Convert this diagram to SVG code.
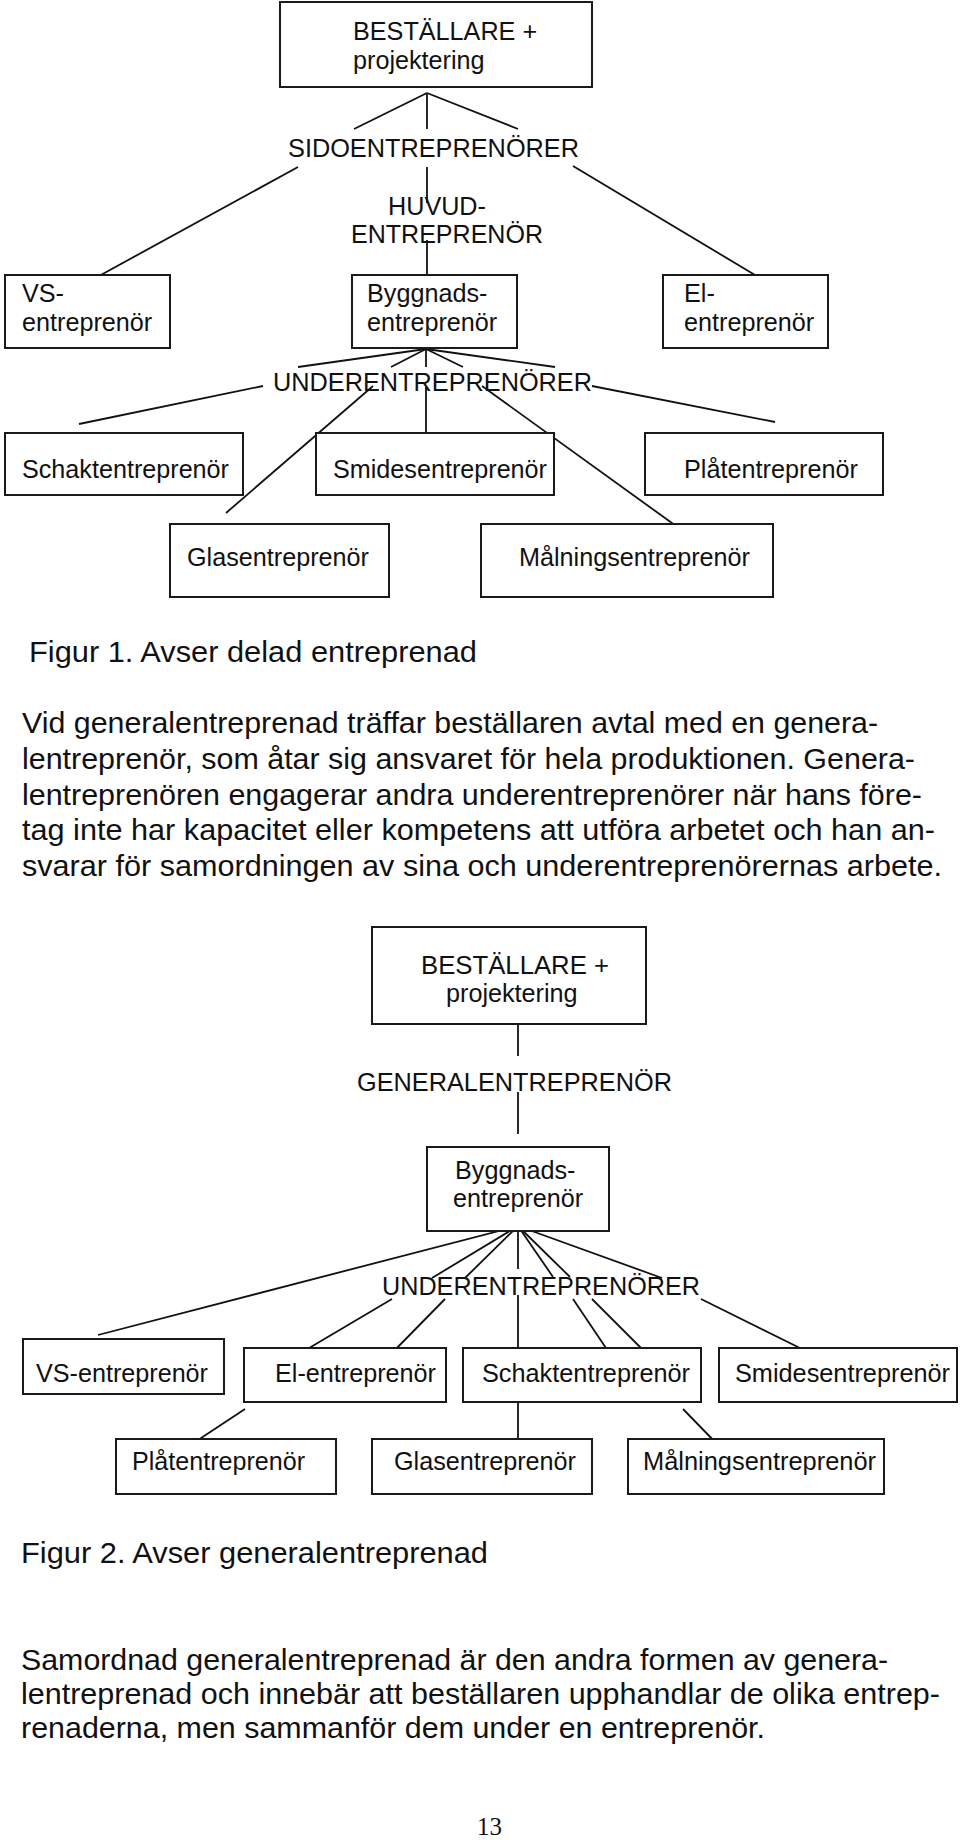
<svg xmlns="http://www.w3.org/2000/svg" width="960" height="1842" viewBox="0 0 960 1842">
<style>
  .bx { fill: #fff; stroke: #1a1a1a; stroke-width: 2; }
  .ln { stroke: #111; stroke-width: 1.8; fill: none; stroke-linecap: butt; }
  .t { font-family: "Liberation Sans", Arial, sans-serif; font-size: 25.2px; fill: #111; }
  .p { font-family: "Liberation Sans", Arial, sans-serif; font-size: 30px; fill: #111; }
  .pg { font-family: "Liberation Serif", "Times New Roman", serif; font-size: 25px; fill: #111; }
</style>
<rect width="960" height="1842" fill="#fff"/>

<!-- Figure 1 connectors -->
<g id="connectors-fig1">
  <line class="ln" x1="427" y1="93" x2="354" y2="129"/>
  <line class="ln" x1="427" y1="93" x2="427" y2="129"/>
  <line class="ln" x1="427" y1="93" x2="518" y2="129"/>
  <line class="ln" x1="298" y1="167" x2="99" y2="276"/>
  <line class="ln" x1="427" y1="167" x2="427" y2="203"/>
  <line class="ln" x1="427" y1="240" x2="427" y2="276"/>
  <line class="ln" x1="573" y1="166" x2="755" y2="275"/>
  <line class="ln" x1="426" y1="349" x2="298" y2="367"/>
  <line class="ln" x1="426" y1="349" x2="391" y2="367"/>
  <line class="ln" x1="426" y1="349" x2="426" y2="367"/>
  <line class="ln" x1="426" y1="349" x2="463" y2="367"/>
  <line class="ln" x1="426" y1="349" x2="555" y2="367"/>
  <line class="ln" x1="263" y1="386" x2="79" y2="424"/>
  <line class="ln" x1="373" y1="386" x2="226" y2="513"/>
  <line class="ln" x1="426" y1="387" x2="426" y2="441"/>
  <line class="ln" x1="482" y1="386" x2="683" y2="531"/>
  <line class="ln" x1="592" y1="386" x2="775" y2="422"/>
</g>

<!-- Figure 1 nodes -->
<g id="f1-bestallare">
  <rect class="bx" x="280" y="2" width="312" height="85"/>
  <text class="t" x="353" y="40">BESTÄLLARE +</text>
  <text class="t" x="353" y="69">projektering</text>
</g>
<g id="f1-sido">
  <text class="t" x="288" y="157" textLength="291" lengthAdjust="spacingAndGlyphs">SIDOENTREPRENÖRER</text>
</g>
<g id="f1-huvud">
  <text class="t" x="388" y="215">HUVUD-</text>
  <text class="t" x="351" y="243" textLength="192" lengthAdjust="spacingAndGlyphs">ENTREPRENÖR</text>
</g>
<g id="f1-vs">
  <rect class="bx" x="5" y="275" width="165" height="73"/>
  <text class="t" x="22" y="302">VS-</text>
  <text class="t" x="22" y="331">entreprenör</text>
</g>
<g id="f1-byggnads">
  <rect class="bx" x="352" y="275" width="165" height="73"/>
  <text class="t" x="367" y="302">Byggnads-</text>
  <text class="t" x="367" y="331">entreprenör</text>
</g>
<g id="f1-el">
  <rect class="bx" x="663" y="275" width="165" height="73"/>
  <text class="t" x="684" y="302">El-</text>
  <text class="t" x="684" y="331">entreprenör</text>
</g>
<g id="f1-under">
  <text class="t" x="273" y="391" textLength="319" lengthAdjust="spacingAndGlyphs">UNDERENTREPRENÖRER</text>
</g>
<g id="f1-schakt">
  <rect class="bx" x="5" y="433" width="238" height="62"/>
  <text class="t" x="22" y="478" textLength="207" lengthAdjust="spacingAndGlyphs">Schaktentreprenör</text>
</g>
<g id="f1-smides">
  <rect class="bx" x="316" y="433" width="238" height="62"/>
  <text class="t" x="333" y="478" textLength="214" lengthAdjust="spacingAndGlyphs">Smidesentreprenör</text>
</g>
<g id="f1-plat">
  <rect class="bx" x="645" y="433" width="238" height="62"/>
  <text class="t" x="684" y="478" textLength="174" lengthAdjust="spacingAndGlyphs">Plåtentreprenör</text>
</g>
<g id="f1-glas">
  <rect class="bx" x="170" y="524" width="219" height="73"/>
  <text class="t" x="187" y="566" textLength="182" lengthAdjust="spacingAndGlyphs">Glasentreprenör</text>
</g>
<g id="f1-malning">
  <rect class="bx" x="481" y="524" width="292" height="73"/>
  <text class="t" x="519" y="566" textLength="231" lengthAdjust="spacingAndGlyphs">Målningsentreprenör</text>
</g>

<!-- Text between figures -->
<g id="caption1">
  <text class="p" x="29" y="662" textLength="448" lengthAdjust="spacingAndGlyphs">Figur 1. Avser delad entreprenad</text>
</g>
<g id="paragraph1">
  <text class="p" x="22" y="733" textLength="856" lengthAdjust="spacingAndGlyphs">Vid generalentreprenad träffar beställaren avtal med en genera-</text>
  <text class="p" x="22" y="769" textLength="893" lengthAdjust="spacingAndGlyphs">lentreprenör, som åtar sig ansvaret för hela produktionen. Genera-</text>
  <text class="p" x="22" y="805" textLength="900" lengthAdjust="spacingAndGlyphs">lentreprenören engagerar andra underentreprenörer när hans före-</text>
  <text class="p" x="22" y="840" textLength="913" lengthAdjust="spacingAndGlyphs">tag inte har kapacitet eller kompetens att utföra arbetet och han an-</text>
  <text class="p" x="22" y="876" textLength="920" lengthAdjust="spacingAndGlyphs">svarar för samordningen av sina och underentreprenörernas arbete.</text>
</g>

<!-- Figure 2 connectors -->
<g id="connectors-fig2">
  <line class="ln" x1="518" y1="1018" x2="518" y2="1056"/>
  <line class="ln" x1="518" y1="1092" x2="518" y2="1134"/>
  <line class="ln" x1="518" y1="1226" x2="98" y2="1335"/>
  <line class="ln" x1="518" y1="1226" x2="432" y2="1278"/>
  <line class="ln" x1="518" y1="1226" x2="465" y2="1278"/>
  <line class="ln" x1="518" y1="1226" x2="518" y2="1269"/>
  <line class="ln" x1="518" y1="1226" x2="553" y2="1277"/>
  <line class="ln" x1="518" y1="1226" x2="570" y2="1277"/>
  <line class="ln" x1="518" y1="1226" x2="662" y2="1278"/>
  <line class="ln" x1="392" y1="1299" x2="299" y2="1354"/>
  <line class="ln" x1="445" y1="1299" x2="391" y2="1354"/>
  <line class="ln" x1="518" y1="1295" x2="518" y2="1347"/>
  <line class="ln" x1="573" y1="1299" x2="610" y2="1354"/>
  <line class="ln" x1="592" y1="1299" x2="647" y2="1354"/>
  <line class="ln" x1="701" y1="1299" x2="812" y2="1354"/>
  <line class="ln" x1="245" y1="1409" x2="189" y2="1446"/>
  <line class="ln" x1="518" y1="1402" x2="518" y2="1439"/>
  <line class="ln" x1="683" y1="1409" x2="719" y2="1446"/>
</g>

<!-- Figure 2 nodes -->
<g id="f2-bestallare">
  <rect class="bx" x="372" y="927" width="274" height="97"/>
  <text class="t" x="421" y="974" textLength="188" lengthAdjust="spacingAndGlyphs">BESTÄLLARE +</text>
  <text class="t" x="446" y="1002">projektering</text>
</g>
<g id="f2-general">
  <text class="t" x="357" y="1091" textLength="315" lengthAdjust="spacingAndGlyphs">GENERALENTREPRENÖR</text>
</g>
<g id="f2-byggnads">
  <rect class="bx" x="427" y="1147" width="182" height="84"/>
  <text class="t" x="455" y="1179">Byggnads-</text>
  <text class="t" x="453" y="1207">entreprenör</text>
</g>
<g id="f2-under">
  <text class="t" x="382" y="1295" textLength="318" lengthAdjust="spacingAndGlyphs">UNDERENTREPRENÖRER</text>
</g>
<g id="f2-vs">
  <rect class="bx" x="23" y="1339" width="201" height="55"/>
  <text class="t" x="36" y="1382" textLength="172" lengthAdjust="spacingAndGlyphs">VS-entreprenör</text>
</g>
<g id="f2-el">
  <rect class="bx" x="244" y="1348" width="202" height="54"/>
  <text class="t" x="275" y="1382" textLength="161" lengthAdjust="spacingAndGlyphs">El-entreprenör</text>
</g>
<g id="f2-schakt">
  <rect class="bx" x="463" y="1348" width="238" height="54"/>
  <text class="t" x="482" y="1382" textLength="208" lengthAdjust="spacingAndGlyphs">Schaktentreprenör</text>
</g>
<g id="f2-smides">
  <rect class="bx" x="719" y="1348" width="238" height="54"/>
  <text class="t" x="735" y="1382" textLength="215" lengthAdjust="spacingAndGlyphs">Smidesentreprenör</text>
</g>
<g id="f2-plat">
  <rect class="bx" x="116" y="1439" width="220" height="55"/>
  <text class="t" x="132" y="1470" textLength="173" lengthAdjust="spacingAndGlyphs">Plåtentreprenör</text>
</g>
<g id="f2-glas">
  <rect class="bx" x="372" y="1439" width="220" height="55"/>
  <text class="t" x="394" y="1470" textLength="182" lengthAdjust="spacingAndGlyphs">Glasentreprenör</text>
</g>
<g id="f2-malning">
  <rect class="bx" x="628" y="1439" width="256" height="55"/>
  <text class="t" x="643" y="1470" textLength="233" lengthAdjust="spacingAndGlyphs">Målningsentreprenör</text>
</g>

<g id="caption2">
  <text class="p" x="21" y="1563" textLength="467" lengthAdjust="spacingAndGlyphs">Figur 2. Avser generalentreprenad</text>
</g>
<g id="paragraph2">
  <text class="p" x="21" y="1670" textLength="867" lengthAdjust="spacingAndGlyphs">Samordnad generalentreprenad är den andra formen av genera-</text>
  <text class="p" x="21" y="1704" textLength="919" lengthAdjust="spacingAndGlyphs">lentreprenad och innebär att beställaren upphandlar de olika entrep-</text>
  <text class="p" x="21" y="1738" textLength="744" lengthAdjust="spacingAndGlyphs">renaderna, men sammanför dem under en entreprenör.</text>
</g>
<g id="page-number">
  <text class="pg" x="477" y="1835">13</text>
</g>
</svg>
